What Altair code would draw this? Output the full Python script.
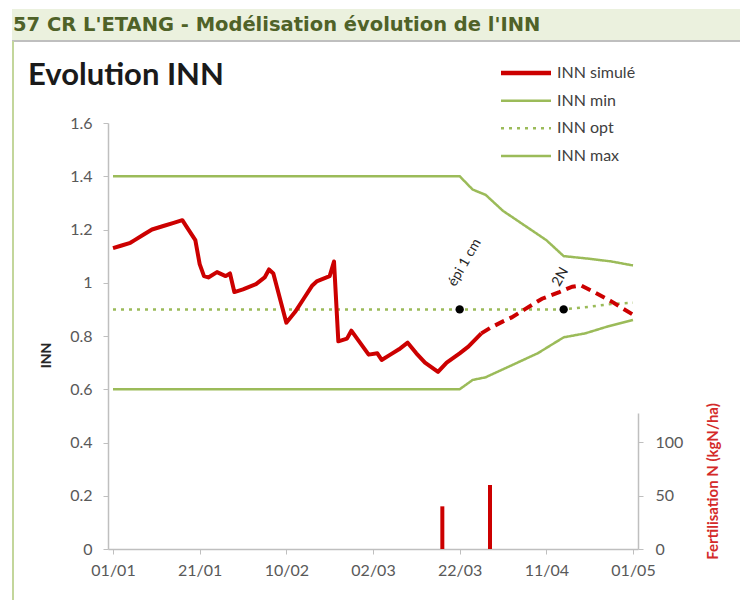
import altair as alt
import pandas as pd

HEADER = "57 CR L'ETANG - Modélisation évolution de l'INN"
TITLE = "Evolution INN"

TICK_DAYS = [0, 20, 40, 60, 80, 100, 120]
TICK_LABELS = ["01/01", "21/01", "10/02", "02/03", "22/03", "11/04", "01/05"]

SERIES = ["INN simulé", "INN min", "INN opt", "INN max"]

# INN simulé (solid part), days after 01/01
SIM_DAY = [0, 2, 4, 5, 7, 9, 12, 14, 16, 17, 19, 20, 21, 22, 24, 26, 27, 28, 30, 33,
           35, 36, 37, 40, 42, 44, 46, 47, 50, 51, 52, 54, 55, 57, 59, 61, 62, 64, 66, 68,
           70, 72, 75, 77, 80, 82, 85]
SIM_INN = [1.13, 1.14, 1.15, 1.16, 1.18, 1.20, 1.215, 1.225, 1.235, 1.21, 1.16, 1.07, 1.025, 1.02, 1.04, 1.025, 1.035, 0.965, 0.975, 0.995,
           1.02, 1.05, 1.035, 0.85, 0.89, 0.94, 0.99, 1.005, 1.025, 1.08, 0.78, 0.79, 0.82, 0.775, 0.73, 0.735, 0.71, 0.73, 0.75, 0.775,
           0.735, 0.70, 0.665, 0.70, 0.735, 0.76, 0.81]
# INN simulé (forecast, dashed)
FC_DAY = [85, 87, 90, 92, 95, 99, 103, 106, 108, 111, 115, 120]
FC_INN = [0.81, 0.83, 0.855, 0.87, 0.90, 0.94, 0.965, 0.985, 0.99, 0.965, 0.93, 0.88]

MAX_DAY = [0, 80, 83, 86, 90, 95, 100, 104, 110, 115, 120]
MAX_INN = [1.4, 1.4, 1.35, 1.33, 1.27, 1.215, 1.16, 1.10, 1.09, 1.08, 1.065]
MIN_DAY = [0, 80, 83, 86, 92, 98, 102, 104, 109, 114, 120]
MIN_INN = [0.6, 0.6, 0.635, 0.645, 0.69, 0.735, 0.775, 0.795, 0.81, 0.835, 0.86]
OPT_DAY = [0, 104, 110, 115, 120]
OPT_INN = [0.9, 0.9, 0.91, 0.92, 0.925]

STAGE_NAMES = ["épi 1 cm", "2N"]
STAGE_DAY = [80, 104]
STAGE_INN = [0.9, 0.9]

FERT_DAY = [76, 87]
FERT_KG = [40, 60]

RED = "#cc0000"
GREEN = "#9bbb59"
AXIS_GREY = "#bfbfbf"
LABEL_GREY = "#595959"

W, H = 530, 426

bounds = pd.concat([
    pd.DataFrame({"day": MIN_DAY, "inn": MIN_INN, "series": "INN min"}),
    pd.DataFrame({"day": OPT_DAY, "inn": OPT_INN, "series": "INN opt"}),
    pd.DataFrame({"day": MAX_DAY, "inn": MAX_INN, "series": "INN max"}),
])
sim = pd.DataFrame({"day": SIM_DAY, "inn": SIM_INN})
fc = pd.DataFrame({"day": FC_DAY, "inn": FC_INN})
stages = pd.DataFrame({"day": STAGE_DAY, "inn": STAGE_INN, "stage": STAGE_NAMES})
fert = pd.DataFrame({"day": FERT_DAY, "kg": FERT_KG})
leg = pd.DataFrame({"series": SERIES})
deco = pd.DataFrame({"header": [HEADER], "title": [TITLE]})

label_expr = "{" + ",".join(f"'{d}':'{l}'" for d, l in zip(TICK_DAYS, TICK_LABELS)) + "}[datum.value]"

X = alt.X("day:Q",
          scale=alt.Scale(domain=[0, 120], nice=False, zero=False),
          axis=alt.Axis(values=TICK_DAYS, labelExpr=label_expr, title=None, grid=False,
                        domainColor=AXIS_GREY, domainWidth=1.5, tickColor=AXIS_GREY, tickSize=5,
                        labelFont="Lato", labelFontSize=16, labelColor=LABEL_GREY, labelPadding=8))

Y = alt.Y("inn:Q",
          scale=alt.Scale(domain=[0, 1.6], nice=False),
          axis=alt.Axis(values=[0, 0.2, 0.4, 0.6, 0.8, 1, 1.2, 1.4, 1.6], format="~g", grid=False,
                        domainColor=AXIS_GREY, domainWidth=1.5, tickColor=AXIS_GREY, tickSize=5,
                        labelFont="Lato", labelFontSize=16, labelColor=LABEL_GREY, labelPadding=11,
                        title="INN", titleFont="Lato", titleFontSize=14, titleFontWeight="bold",
                        titleColor="#262626", titleAngle=270, titleX=-62, titleY=232,
                        titleAlign="center", titleBaseline="middle"))

color = alt.Color("series:N", scale=alt.Scale(domain=SERIES, range=[RED, GREEN, GREEN, GREEN]), legend=None)
dash = alt.StrokeDash("series:N", scale=alt.Scale(domain=SERIES, range=[[1, 0], [1, 0], [3, 5], [1, 0]]), legend=None)
swidth = alt.StrokeWidth("series:N", scale=alt.Scale(type="ordinal", domain=SERIES, range=[4.5, 2.5, 2.5, 2.5]),
                         legend=None)

bound_lines = alt.Chart(bounds).mark_line().encode(x=X, y=Y, color=color, strokeDash=dash, strokeWidth=swidth,
                                                    detail="series:N")
sim_line = alt.Chart(sim).mark_line(color=RED, strokeWidth=4, strokeJoin="round").encode(x=X, y=Y)
fc_line = alt.Chart(fc).mark_line(color=RED, strokeWidth=4, strokeDash=[10, 6]).encode(x=X, y=Y)
dots = alt.Chart(stages).mark_circle(size=70, color="black", opacity=1).encode(x=X, y=Y)
dot_labels = alt.Chart(stages).mark_text(align="left", baseline="alphabetic", angle=300, dx=17, dy=-15,
                                         font="Lato", fontSize=14, color="#262626").encode(x=X, y=Y, text="stage:N")

inn_layer = alt.layer(bound_lines, sim_line, fc_line, dots, dot_labels)

fert_bars = alt.Chart(fert).mark_bar(size=4, color=RED).encode(
    x=X,
    y=alt.Y("kg:Q",
            scale=alt.Scale(domain=[0, 127.5], range=[H, H - 136], nice=False),
            axis=alt.Axis(orient="right", values=[0, 50, 100], grid=False,
                          domainColor=AXIS_GREY, domainWidth=1.5, tickColor=AXIS_GREY, tickSize=5,
                          labelFont="Lato", labelFontSize=16, labelColor=LABEL_GREY, labelPadding=12,
                          title="Fertilisation N (kgN/ha)", titleFont="Lato", titleFontSize=15,
                          titleFontWeight="bold", titleColor="#d42a2a", titleAngle=270,
                          titleX=74, titleY=358, titleAlign="center", titleBaseline="middle")),
)

leg_y = alt.Y("series:N", scale=alt.Scale(type="point", domain=SERIES, range=[-50, 33], padding=0), axis=None)
leg_rules = alt.Chart(leg).mark_rule().encode(x=alt.value(393), x2=alt.value(443), y=leg_y,
                                              color=color, strokeDash=dash, strokeWidth=swidth)
leg_text = alt.Chart(leg).mark_text(align="left", baseline="middle", font="Lato", fontSize=16,
                                    color="#404040").encode(x=alt.value(449), y=leg_y, text="series:N")
legend_layer = alt.layer(leg_rules, leg_text)

band = alt.Chart(deco).mark_rect(fill="#ebf1de").encode(
    x=alt.value(-96), x2=alt.value(632), y=alt.value(-114), y2=alt.value(-83))
band_line = alt.Chart(deco).mark_rule(color=AXIS_GREY, strokeWidth=2).encode(
    x=alt.value(-96), x2=alt.value(632), y=alt.value(-82))
panel_left = alt.Chart(deco).mark_rule(color="#c3d69b", strokeWidth=2).encode(
    x=alt.value(-95), y=alt.value(-82), y2=alt.value(477))
header = alt.Chart(deco).mark_text(align="left", baseline="alphabetic", font="DejaVu Sans",
                                   fontWeight="bold", fontSize=19.5, color="#4f6228").encode(
    x=alt.value(-95), y=alt.value(-92), text="header:N")
title = alt.Chart(deco).mark_text(align="left", baseline="alphabetic", font="Lato",
                                  fontWeight="bold", fontSize=31, color="#1a1a1a").encode(
    x=alt.value(-80), y=alt.value(-38), text="title:N")
deco_layer = alt.layer(band, band_line, panel_left, header, title)

chart = alt.layer(deco_layer, inn_layer, fert_bars, legend_layer).resolve_scale(
    y="independent"
).properties(
    width=W, height=H,
    autosize=alt.AutoSizeParams(type="none"),
    padding={"left": 100, "top": 115, "right": 102, "bottom": 59},
    background="white",
).configure_view(stroke=None)

chart.save("out.html", embed_options={"renderer": "svg", "actions": False})
